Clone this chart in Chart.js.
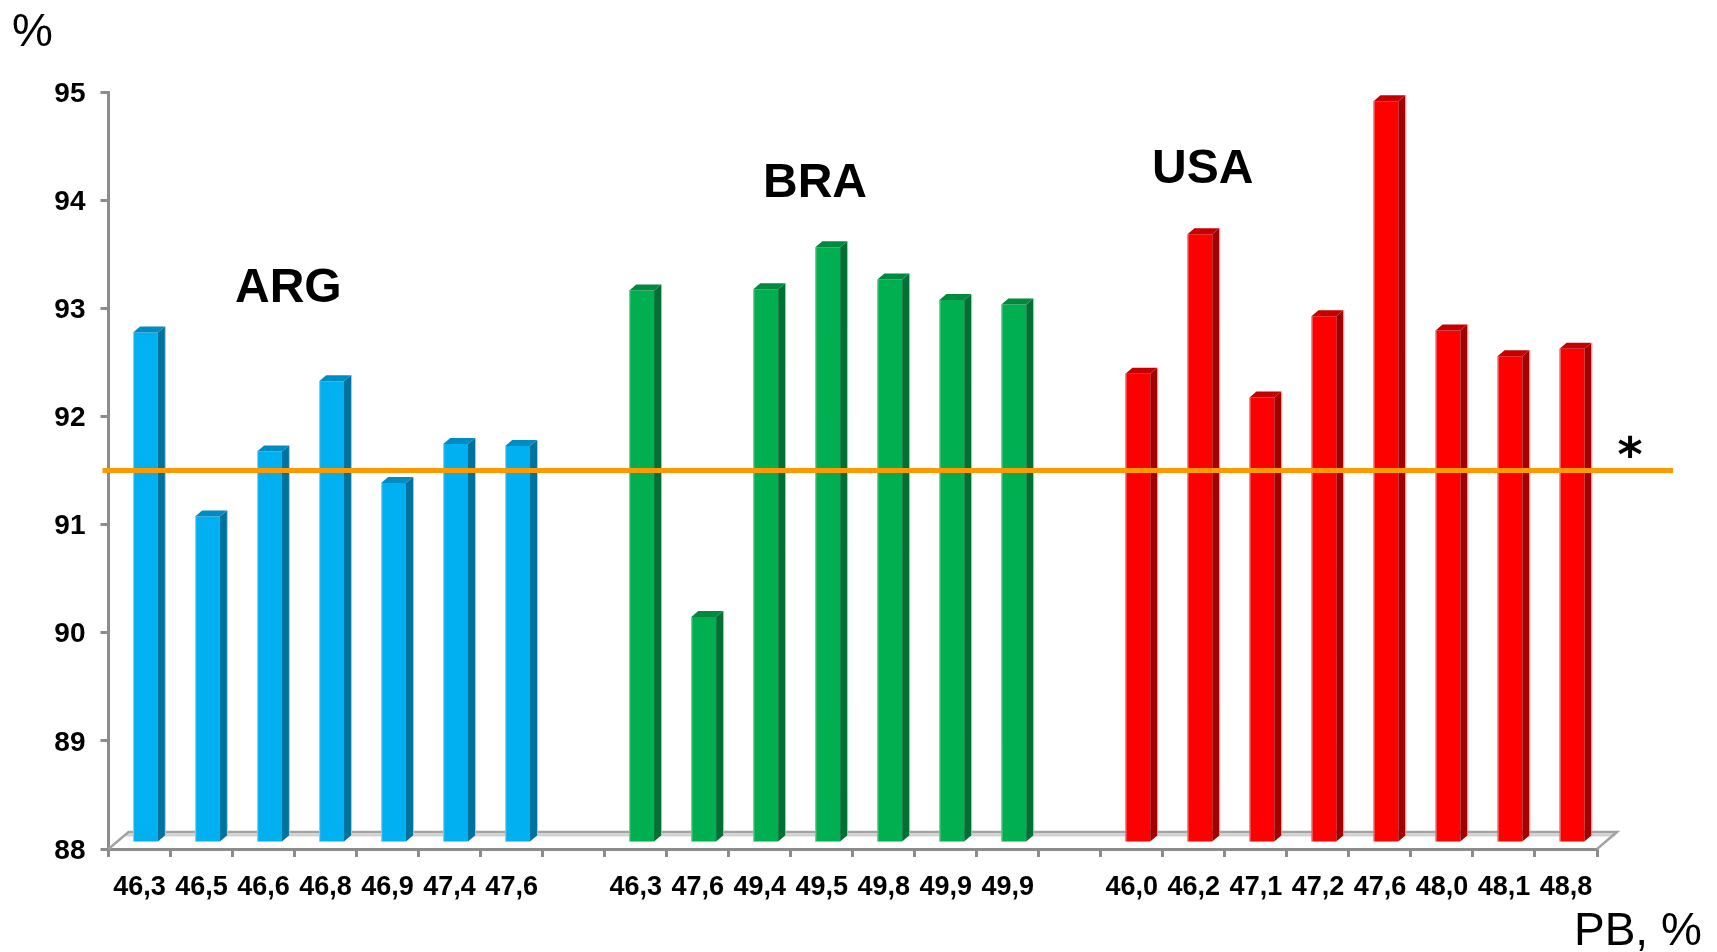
<!DOCTYPE html>
<html>
<head>
<meta charset="utf-8">
<script src="https://cdn.jsdelivr.net/npm/chart.js@4.4.1/dist/chart.umd.min.js"></script>
<style>
  html, body { margin: 0; padding: 0; background: #ffffff; }
  canvas { display: block; }
</style>
</head>
<body>
<canvas id="chart" width="1717" height="952"></canvas>
<script>
// PB (%) of each sample, grouped by country
const argLabels = ['46,3', '46,5', '46,6', '46,8', '46,9', '47,4', '47,6'];
const braLabels = ['46,3', '47,6', '49,4', '49,5', '49,8', '49,9', '49,9'];
const usaLabels = ['46,0', '46,2', '47,1', '47,2', '47,6', '48,0', '48,1', '48,8'];

// Measured value (%) for each sample
const argValues = [92.72, 91.02, 91.62, 92.27, 91.33, 91.69, 91.67];
const braValues = [93.11, 90.09, 93.12, 93.51, 93.21, 93.02, 92.98];
const usaValues = [92.34, 93.63, 92.12, 92.87, 94.86, 92.74, 92.50, 92.57];

const groupNames = ['ARG', 'BRA', 'USA'];
const referenceLevel = 91.5;   // horizontal reference line (*)
const yMin = 88;
const yMax = 95;

// Category axis: groups separated by one empty slot
const labels = [...argLabels, '', ...braLabels, '', ...usaLabels];
const pad = n => new Array(n).fill(null);
const argData = [...argValues, ...pad(1 + braLabels.length + 1 + usaLabels.length)];
const braData = [...pad(argLabels.length + 1), ...braValues, ...pad(1 + usaLabels.length)];
const usaData = [...pad(argLabels.length + 1 + braLabels.length + 1), ...usaValues];

// Face colours for the column prisms: front, side, top, edge highlight
const faceStyles = [
  { front: '#00b0f0', side: '#00729e', top: '#008cc2', edge: '#8fd3ee' },
  { front: '#00b050', side: '#007033', top: '#008a3f', edge: '#86cfa2' },
  { front: '#ff0000', side: '#a50000', top: '#c40000', edge: '#e99a9a' }
];

const FONT = "'Liberation Sans', Arial, sans-serif";
const DEPTH_X = 7, DEPTH_Y = 6;      // prism depth
const SHIFT_X = 6, SHIFT_Y = -6;     // columns stand mid-way back on the floor
const FLOOR_DX = 20, FLOOR_DY = 17;  // floor depth

const floorPlugin = {
  id: 'floor',
  beforeDatasetsDraw(chart) {
    const { left, right, bottom } = chart.chartArea;
    const ctx = chart.ctx;
    ctx.save();
    // slab thickness band
    ctx.strokeStyle = '#d2d2d2';
    ctx.lineWidth = 3;
    ctx.beginPath();
    ctx.moveTo(left + FLOOR_DX - 3, bottom - FLOOR_DY + 3);
    ctx.lineTo(right + FLOOR_DX - 2, bottom - FLOOR_DY + 3);
    ctx.stroke();
    // floor outline
    ctx.strokeStyle = '#a3a3a3';
    ctx.lineWidth = 2.5;
    ctx.beginPath();
    ctx.moveTo(left, bottom);
    ctx.lineTo(left + FLOOR_DX, bottom - FLOOR_DY);
    ctx.lineTo(right + FLOOR_DX, bottom - FLOOR_DY);
    ctx.lineTo(right, bottom);
    ctx.stroke();
    ctx.restore();
  }
};

const prismPlugin = {
  id: 'prism',
  beforeDatasetDraw(chart) {
    const ctx = chart.ctx;
    ctx.save();
    ctx.translate(SHIFT_X, SHIFT_Y);
  },
  afterDatasetDraw(chart, args) {
    const ctx = chart.ctx;
    const st = faceStyles[args.index];
    const values = chart.data.datasets[args.index].data;
    args.meta.data.forEach((el, i) => {
      if (values[i] == null) return;
      const { x, y, base, width } = el.getProps(['x', 'y', 'base', 'width'], true);
      const l = x - width / 2, r = x + width / 2;
      // side face
      ctx.fillStyle = st.side;
      ctx.beginPath();
      ctx.moveTo(r, y);
      ctx.lineTo(r + DEPTH_X, y - DEPTH_Y);
      ctx.lineTo(r + DEPTH_X, base - DEPTH_Y);
      ctx.lineTo(r, base);
      ctx.closePath();
      ctx.fill();
      // top face
      ctx.fillStyle = st.top;
      ctx.beginPath();
      ctx.moveTo(l, y);
      ctx.lineTo(l + DEPTH_X, y - DEPTH_Y);
      ctx.lineTo(r + DEPTH_X, y - DEPTH_Y);
      ctx.lineTo(r, y);
      ctx.closePath();
      ctx.fill();
      // soft highlight edges
      ctx.strokeStyle = st.edge;
      ctx.lineWidth = 1;
      ctx.beginPath();
      ctx.moveTo(r + DEPTH_X + 0.5, y - DEPTH_Y);
      ctx.lineTo(r + DEPTH_X + 0.5, base - DEPTH_Y);
      ctx.moveTo(l + 0.5, y);
      ctx.lineTo(l + 0.5, base);
      ctx.stroke();
    });
    ctx.restore();
  }
};

const overlayPlugin = {
  id: 'overlay',
  afterDatasetsDraw(chart) {
    const ctx = chart.ctx;
    const yScale = chart.scales.y;
    const yRef = yScale.getPixelForValue(referenceLevel);
    ctx.save();
    ctx.strokeStyle = '#ff9900';
    ctx.lineWidth = 5;
    ctx.beginPath();
    ctx.moveTo(chart.chartArea.left - 6, yRef);
    ctx.lineTo(chart.chartArea.right + 76, yRef);
    ctx.stroke();
    ctx.restore();
  },
  afterDraw(chart) {
    const ctx = chart.ctx;
    ctx.save();
    ctx.fillStyle = '#000000';
    ctx.textBaseline = 'alphabetic';
    ctx.textAlign = 'left';
    // axis names
    ctx.font = `46px ${FONT}`;
    ctx.fillText('%', 12, 46);
    ctx.font = `46px ${FONT}`;
    ctx.fillText('PB, %', 1574, 945);
    // group names
    ctx.font = `bold 48px ${FONT}`;
    ctx.fillText(groupNames[0], 235, 302);
    ctx.fillText(groupNames[1], 763, 197);
    ctx.fillText(groupNames[2], 1152, 183);
    // reference-line marker
    ctx.textAlign = 'center';
    ctx.font = `bold 48px 'DejaVu Sans', sans-serif`;
    ctx.fillText('*', 1630, 471);
    ctx.restore();
  }
};

new Chart(document.getElementById('chart'), {
  type: 'bar',
  data: {
    labels: labels,
    datasets: [
      { label: groupNames[0], data: argData, backgroundColor: faceStyles[0].front },
      { label: groupNames[1], data: braData, backgroundColor: faceStyles[1].front },
      { label: groupNames[2], data: usaData, backgroundColor: faceStyles[2].front }
    ]
  },
  options: {
    responsive: false,
    animation: false,
    devicePixelRatio: 1,
    layout: { padding: { top: 92, right: 120, bottom: 43, left: 0 } },
    datasets: {
      bar: {
        base: yMin,
        grouped: false,
        barPercentage: 0.4,
        categoryPercentage: 1.0,
        borderWidth: 0,
        clip: false
      }
    },
    plugins: {
      legend: { display: false },
      tooltip: { enabled: false },
      title: { display: false }
    },
    scales: {
      x: {
        offset: true,
        afterFit: s => { s.height = 60; },
        border: { display: true, color: '#8c8c8c', width: 3 },
        grid: {
          display: true,
          offset: true,
          drawOnChartArea: false,
          drawTicks: true,
          tickLength: 8,
          color: '#8c8c8c',
          lineWidth: 3
        },
        ticks: {
          autoSkip: false,
          maxRotation: 0,
          minRotation: 0,
          padding: 14,
          color: '#000000',
          font: { family: FONT, size: 27, weight: 'bold' }
        }
      },
      y: {
        min: yMin,
        max: yMax,
        afterFit: s => { s.width = 108.5; },
        border: { display: true, color: '#8c8c8c', width: 3 },
        grid: {
          display: true,
          drawOnChartArea: false,
          drawTicks: true,
          tickLength: 8,
          color: '#8c8c8c',
          lineWidth: 3
        },
        ticks: {
          stepSize: 1,
          padding: 15,
          labelOffset: 2,
          color: '#000000',
          font: { family: FONT, size: 28, weight: 'bold' }
        }
      }
    }
  },
  plugins: [floorPlugin, prismPlugin, overlayPlugin]
});
</script>
</body>
</html>
